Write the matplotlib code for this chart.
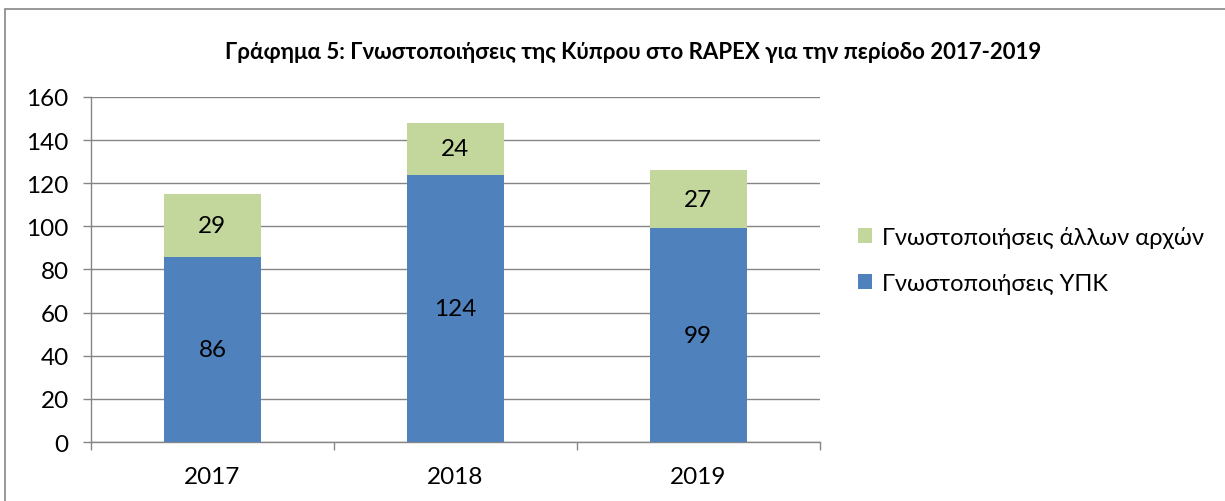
import matplotlib.pyplot as plt
from matplotlib.patches import Rectangle
import numpy as np

years = ['2017', '2018', '2019']
ypk = [86, 124, 99]
other = [29, 24, 27]
label_ypk = 'Γνωστοποιήσεις ΥΠΚ'
label_other = 'Γνωστοποιήσεις άλλων αρχών'
title = 'Γράφημα 5: Γνωστοποιήσεις της Κύπρου στο RAPEX για την περίοδο 2017-2019'

blue = '#4F81BD'
green = '#C3D69B'
gray = '#868686'

plt.rcParams['font.family'] = ['Lato', 'DejaVu Sans']

fig = plt.figure(figsize=(12.25, 5.02), dpi=100)
fig.patches.append(Rectangle((0.004, -0.01), 1.0, 0.99, transform=fig.transFigure,
                             fill=False, edgecolor=gray, linewidth=1.2))

ax = fig.add_axes([0.0743, 0.1175, 0.5947, 0.6875])
x = np.arange(len(years))
b1 = ax.bar(x, ypk, width=0.4, color=blue, label=label_ypk, zorder=3)
b2 = ax.bar(x, other, width=0.4, bottom=ypk, color=green, label=label_other, zorder=3)

for i in range(len(years)):
    ax.text(x[i], ypk[i] / 2, str(ypk[i]), ha='center', va='center', fontsize=17.5)
    ax.text(x[i], ypk[i] + other[i] / 2, str(other[i]), ha='center', va='center', fontsize=17.5)

ax.set_xlim(-0.5, 2.5)
ax.set_ylim(0, 160)
ax.set_yticks(range(0, 161, 20))
ax.yaxis.grid(True, color=gray, linewidth=1, zorder=0)
ax.set_xticks(x)
ax.set_xticklabels(years)
ax.set_xticks([-0.5, 0.5, 1.5, 2.5], minor=True)
ax.tick_params(axis='x', which='major', length=0, labelsize=17.5, pad=17)
ax.tick_params(axis='x', which='minor', length=6, color=gray, width=1)
ax.tick_params(axis='y', length=6, color=gray, width=1, labelsize=17.5, pad=10)
for s in ['top', 'right']:
    ax.spines[s].set_visible(False)
for s in ['left', 'bottom']:
    ax.spines[s].set_color(gray)
    ax.spines[s].set_linewidth(1)

# legend lists the top segment first
handles = [b2, b1]
fig.legend(handles, [label_other, label_ypk], loc='center left',
           bbox_to_anchor=(0.683, 0.480), frameon=False, fontsize=17,
           handlelength=0.6, handleheight=0.6, handletextpad=0.4, labelspacing=1.05)

fig.text(0.517, 0.895, title, ha='center', va='center', fontsize=16, fontweight='bold')

fig.savefig('out.png', dpi=100)
